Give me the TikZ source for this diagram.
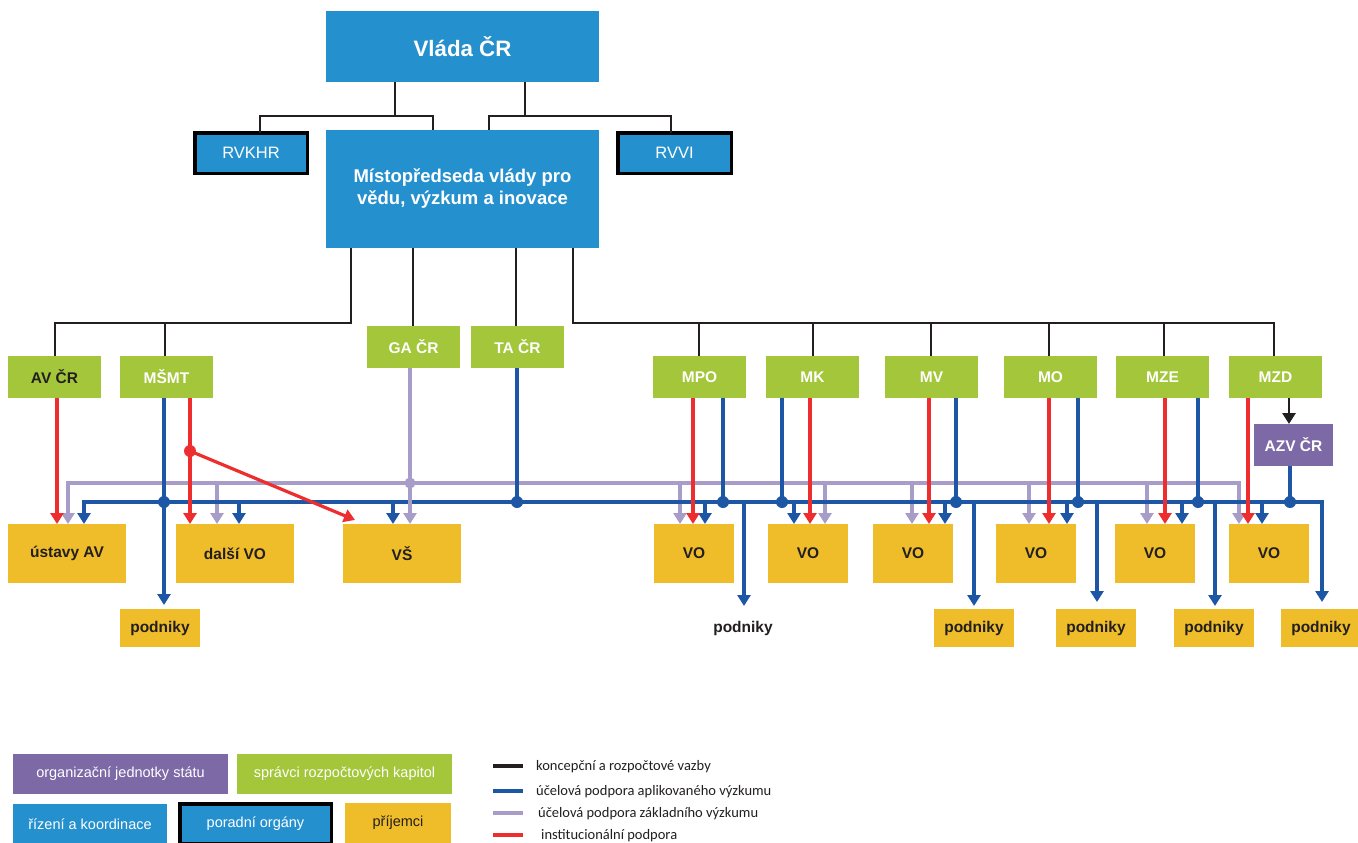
\documentclass[tikz,border=0pt]{standalone}
\usepackage{fontspec}
\setmainfont{Liberation Sans}
\newfontfamily\legfont{Carlito}
\usetikzlibrary{arrows.meta,calc}
\definecolor{cblue}{RGB}{37,144,206}
\definecolor{cgreen}{RGB}{163,198,58}
\definecolor{cyellow}{RGB}{239,189,41}
\definecolor{cpurple}{RGB}{124,105,166}
\definecolor{lred}{RGB}{238,45,46}
\definecolor{lblue}{RGB}{30,86,166}
\definecolor{llav}{RGB}{168,156,200}
\definecolor{lblack}{RGB}{35,31,32}
\definecolor{tdark}{RGB}{35,31,32}
\newcommand\fVl{\fontsize{22.3}{26}\selectfont\bfseries}
\newcommand\fMi{\fontsize{18.5}{22}\selectfont\bfseries}
\newcommand\fRv{\fontsize{16.5}{20}\selectfont}
\newcommand\fNd{\fontsize{15.5}{18}\selectfont\bfseries}
\newcommand\fLg{\fontsize{14.5}{17}\selectfont}
\newcommand\fLl{\legfont\fontsize{14.5}{17}\selectfont}
\tikzset{
  tipT/.tip={Triangle[width=13pt,length=11pt]},
  bx/.style={anchor=north west, inner sep=0pt, outer sep=0pt, align=center},
  bluebox/.style={bx, fill=cblue, text=white},
  thickbox/.style={bx, fill=cblue, text=white, draw=black, line width=3.5pt},
  greenbox/.style={bx, fill=cgreen, text=white, font=\fNd, minimum width=93pt, minimum height=42pt},
  yelbox/.style={bx, fill=cyellow, text=tdark, font=\fNd, minimum height=59pt},
  podbox/.style={bx, fill=cyellow, text=tdark, font=\fNd, minimum width=80pt, minimum height=38pt},
  legbox/.style={bx, font=\fLg, text=white},
  blk/.style={draw=lblack, line width=2.8pt},
  karr/.style={draw=lblack, line width=2.8pt, -tipT},
  barr/.style={draw=lblue, line width=3.2pt, -tipT},
  bln/.style={draw=lblue, line width=3.2pt},
  rarr/.style={draw=lred, line width=3.2pt, -tipT},
  parr/.style={draw=llav, line width=3.2pt, -tipT},
  legline/.style={line width=3.2pt},
  legtext/.style={anchor=base west, inner sep=0pt, font=\fLl, text=lblack}
}
\begin{document}
\begin{tikzpicture}[x=1pt,y=-1pt]
\useasboundingbox (0,0) rectangle (1358,843);
\fill[white] (0,0) rectangle (1358,843);

% ---------- top ----------
\node[bluebox, font=\fVl, minimum width=273pt, minimum height=71pt] (vlada) at (326,11) {Vláda ČR};
\node[thickbox, font=\fRv, minimum width=112.5pt, minimum height=40.5pt] (rvkhr) at (194.75,132.75) {RVKHR};
\node[bluebox, font=\fMi, minimum width=273pt, minimum height=118pt] (misto) at (326,130) {Místopředseda vlády pro\\vědu, výzkum a inovace};
\node[thickbox, font=\fRv, minimum width=113.5pt, minimum height=40.5pt] (rvvi) at (617.75,132.75) {RVVI};

% ---------- green ----------
\node[greenbox, text=tdark] (av) at (8,356) {AV ČR};
\node[greenbox] (msmt) at (120,356) {MŠMT};
\node[greenbox] (ga) at (367,326) {GA ČR};
\node[greenbox] (ta) at (471,326) {TA ČR};
\node[greenbox] (mpo) at (653,356) {MPO};
\node[greenbox] (mk) at (766,356) {MK};
\node[greenbox] (mv) at (885,356) {MV};
\node[greenbox] (mo) at (1004,356) {MO};
\node[greenbox] (mze) at (1116,356) {MZE};
\node[greenbox] (mzd) at (1229,356) {MZD};
\node[bx, fill=cpurple, text=white, font=\fNd, minimum width=79pt, minimum height=42pt] (azv) at (1254,424) {AZV ČR};

% ---------- recipients ----------
\node[yelbox, minimum width=118pt] (ustav) at (8,524) {ústavy AV};
\node[yelbox, minimum width=118pt] (dalsi) at (176,524) {další VO};
\node[yelbox, minimum width=118pt] (vs) at (343,524) {VŠ};
\node[yelbox, minimum width=80pt] (vo1) at (654,524) {VO};
\node[yelbox, minimum width=80pt] (vo2) at (768,524) {VO};
\node[yelbox, minimum width=80pt] (vo3) at (873,524) {VO};
\node[yelbox, minimum width=80pt] (vo4) at (996,524) {VO};
\node[yelbox, minimum width=80pt] (vo5) at (1115,524) {VO};
\node[yelbox, minimum width=80pt] (vo6) at (1229,524) {VO};
\node[podbox] (pod1) at (120,609) {podniky};
\node[bx, text=tdark, font=\fNd, minimum width=80pt, minimum height=38pt] (podT) at (703,609) {podniky};
\node[podbox] (pod2) at (934,609) {podniky};
\node[podbox] (pod3) at (1056,609) {podniky};
\node[podbox] (pod4) at (1174,609) {podniky};
\node[podbox, minimum width=80pt] (pod5) at (1281,609) {podniky};

% ---------- black lines ----------
\coordinate (v1) at (395,116); \coordinate (v2) at (525,116);
\coordinate (h1) at (260,116); \coordinate (h2) at (433,116);
\coordinate (h3) at (489,116); \coordinate (h4) at (671,116);
\draw[blk] (vlada.south -| v1) -- (v1);
\draw[blk] (rvkhr.north -| h1) -- (h1) -- (h2) -- (misto.north -| h2);
\draw[blk] (vlada.south -| v2) -- (v2);
\draw[blk] (misto.north -| h3) -- (h3) -- (h4) -- (rvvi.north -| h4);

\coordinate (m1) at (351,323); \coordinate (m2) at (573,323);
\coordinate (a1) at (55,323); \coordinate (a2) at (165,323);
\draw[blk] (misto.south -| m1) -- (m1) -- (a1) -- (av.north -| a1);
\draw[blk] (a2) -- (msmt.north -| a2);
\coordinate (g1) at (413,300); \draw[blk] (misto.south -| g1) -- (ga.north -| g1);
\coordinate (t1) at (516,300); \draw[blk] (misto.south -| t1) -- (ta.north -| t1);
\coordinate (r1) at (1274,323);
\draw[blk] (misto.south -| m2) -- (m2) -- (r1) -- (mzd.north -| r1);
\foreach \x/\n in {699/mpo,813/mk,931/mv,1049/mo,1164/mze}{
  \coordinate (tmp) at (\x,323);
  \draw[blk] (tmp) -- (tmp |- \n.north);
}
\coordinate (z1) at (1289,410);
\draw[karr] (mzd.south -| z1) -- (azv.north -| z1);

% ---------- purple (basic research) ----------
\coordinate (pL) at (68,483); \coordinate (pR) at (1239,483);
\draw[draw=llav, line width=3.2pt, tipT-tipT]
  (pL |- ustav.north) -- (pL) -- (pR) -- (pR |- vo6.north);
\foreach \x/\n in {217/dalsi,680/vo1,825/vo2,912/vo3,1029/vo4,1147/vo5}{
  \coordinate (tmp) at (\x,483);
  \draw[parr] (tmp) -- (tmp |- \n.north);
}

% ---------- blue (applied research) ----------
\coordinate (bL) at (84,502); \coordinate (bR) at (1322,502);
\draw[draw=lblue, line width=3.2pt, tipT-tipT]
  (bL |- ustav.north) -- (bL) -- (bR) -- ($(bR |- pod5.north)+(0,-7)$);
\foreach \x/\n in {239/dalsi,393/vs,705/vo1,794/vo2,945/vo3,1067/vo4,1182/vo5,1262/vo6}{
  \coordinate (tmp) at (\x,502);
  \draw[barr] (tmp) -- (tmp |- \n.north);
}
\foreach \x/\n/\g in {744/podT/3,974/pod2/3,1097/pod3/7,1215/pod4/3}{
  \coordinate (tmp) at (\x,502);
  \draw[barr] (tmp) -- ($(tmp |- \n.north)+(0,-\g)$);
}
\coordinate (ms) at (164,502);
\draw[barr] (ms |- msmt.south) -- ($(ms |- pod1.north)+(0,-4)$);
\fill[lblue] (ms) circle (6pt);
\foreach \x/\n in {517/ta,723/mpo,782/mk,956/mv,1078/mo,1198/mze,1290/azv}{
  \coordinate (tmp) at (\x,502);
  \draw[bln] (tmp |- \n.south) -- (tmp);
  \fill[lblue] (tmp) circle (6pt);
}

% GA CR vertical
\coordinate (gp) at (410,483);
\draw[parr] (gp |- ga.south) -- (gp |- vs.north);
\fill[llav] (gp) circle (5.5pt);

% ---------- red (institutional) ----------
\foreach \x/\s/\t in {57/av/ustav,190/msmt/dalsi,693/mpo/vo1,810/mk/vo2,929/mv/vo3,1049/mo/vo4,1165/mze/vo5,1248/mzd/vo6}{
  \coordinate (tmp) at (\x,450);
  \draw[rarr] (tmp |- \s.south) -- (tmp |- \t.north);
}
\coordinate (rd) at (190,451);
\coordinate (rdend) at (355,520);
\draw[rarr] (rd) -- (rdend);
\fill[lred] (rd) circle (6pt);

% ---------- legend ----------
\node[legbox, fill=cpurple, minimum width=215pt, minimum height=40pt] (lg1) at (13,754) {organizační jednotky státu};
\node[legbox, fill=cgreen, minimum width=215pt, minimum height=40pt] (lg2) at (237,754) {správci rozpočtových kapitol};
\node[legbox, fill=cblue, minimum width=154pt, minimum height=40pt] (lg3) at (13,804) {řízení a koordinace};
\node[legbox, fill=cblue, draw=black, line width=3.5pt, minimum width=151.5pt, minimum height=40pt] (lg4) at (179.75,803.75) {poradní orgány};
\node[legbox, fill=cyellow, text=tdark, minimum width=106pt, minimum height=40pt] (lg5) at (345,803) {příjemci};

\coordinate (k1a) at (493,766); \coordinate (k1b) at (523,766);
\coordinate (k2a) at (493,791); \coordinate (k2b) at (523,791);
\coordinate (k3a) at (493,813); \coordinate (k3b) at (523,813);
\coordinate (k4a) at (493,835); \coordinate (k4b) at (523,835);
\draw[legline, draw=lblack] (k1a) -- (k1b);
\draw[legline, draw=lblue] (k2a) -- (k2b);
\draw[legline, draw=llav] (k3a) -- (k3b);
\draw[legline, draw=lred] (k4a) -- (k4b);
\node[legtext] (lt1) at (536,770) {koncepční a rozpočtové vazby};
\node[legtext] (lt2) at (536,795) {účelová podpora aplikovaného výzkumu};
\node[legtext] (lt3) at (538,817) {účelová podpora základního výzkumu};
\node[legtext] (lt4) at (541,839.5) {institucionální podpora};
\end{tikzpicture}
\end{document}
